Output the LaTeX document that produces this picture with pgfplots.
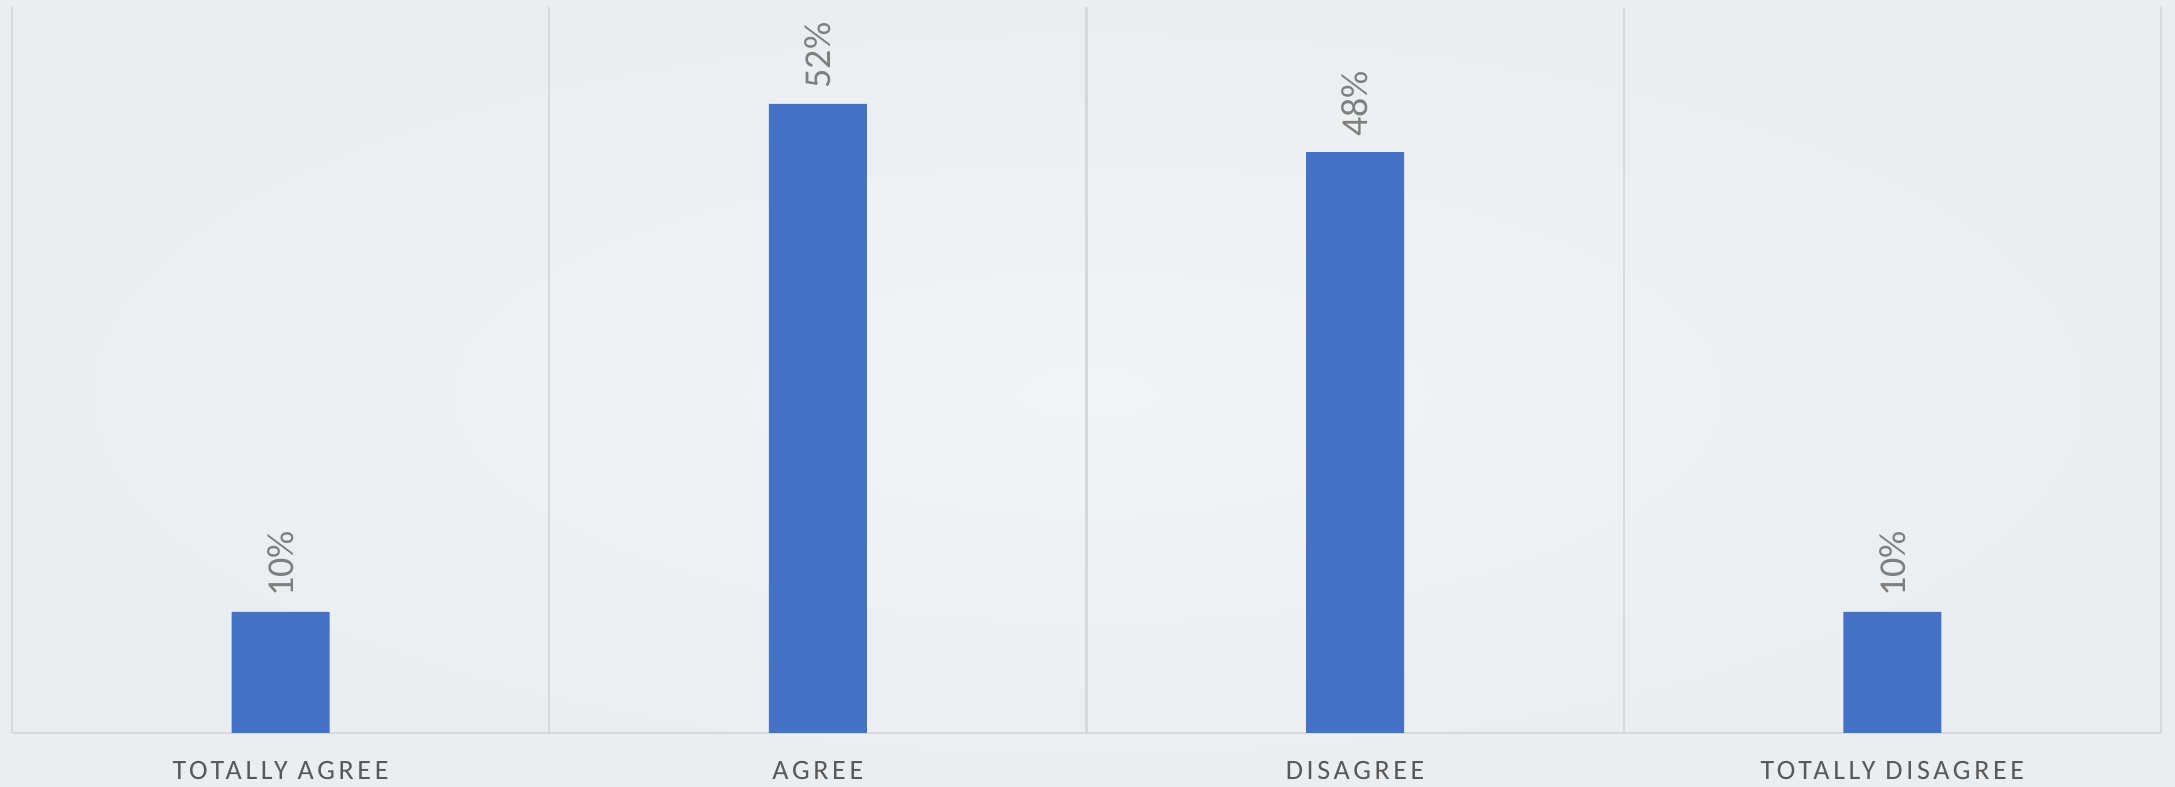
\documentclass[border=0pt]{standalone}
\usepackage{pgfplots}
\pgfplotsset{compat=1.18}
\usepackage{fontspec}
\setmainfont{Carlito}

\definecolor{bgin}{HTML}{F2F4F5}
\definecolor{bgout}{HTML}{EAEEF0}
\definecolor{gridc}{HTML}{D6D8DA}
\definecolor{barc}{HTML}{4472C4}
\definecolor{labc}{HTML}{595959}
\definecolor{valc}{HTML}{7F7F7F}

\begin{document}
\begin{tikzpicture}
\shade[inner color=bgin, outer color=bgout] (0,0) rectangle (1087.5pt,393.5pt);
\begin{axis}[
    at={(6pt,27pt)}, anchor=south west,
    scale only axis,
    width=1074.5pt, height=363pt,
    xmin=-0.5, xmax=3.5,
    ymin=0, ymax=60,
    clip=false,
    axis x line*=bottom,
    axis y line=none,
    x axis line style={-, draw=gridc, line width=1.4pt},
    xtick={0,1,2,3},
    xticklabels={TOTALLY\ AGREE, AGREE, DISAGREE, TOTALLY\ DISAGREE},
    major tick length=0pt,
    extra x ticks={-0.5,0.5,1.5,2.5,3.5},
    extra x tick labels={},
    extra x tick style={grid=major},
    major grid style={draw=gridc, line width=1.2pt},
    xticklabel style={font=\fontsize{14}{16}\selectfont\addfontfeature{LetterSpace=13},
        text=labc, inner sep=0pt, anchor=north, yshift=-14pt},
    /pgf/number format/assume math mode=true,
    ybar, bar width=49pt, bar shift=0pt,
    nodes near coords={\pgfmathprintnumber{\pgfplotspointmeta}\%},
    every node near coord/.append style={rotate=90, anchor=west,
        inner xsep=7.5pt, inner ysep=0pt,
        font=\fontsize{19}{21}\selectfont, text=valc},
]
\addplot[fill=barc, draw=none] coordinates {
    (0,10) (1,52) (2,48) (3,10)
};
\end{axis}
\pgfresetboundingbox
\path (0,0) rectangle (1087.5pt,393.5pt);
\end{tikzpicture}
\end{document}
